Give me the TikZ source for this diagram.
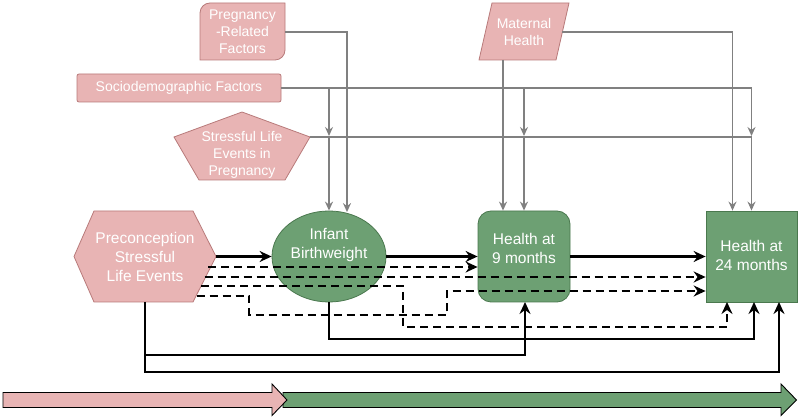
\documentclass[tikz,border=0pt]{standalone}
\usepackage{fontspec}
\setmainfont{Liberation Sans}
\usetikzlibrary{arrows.meta,shapes.geometric,calc}
\definecolor{pinkfill}{HTML}{E8B4B4}
\definecolor{pinkline}{HTML}{B87A7A}
\definecolor{greenfill}{HTML}{6DA073}
\definecolor{greenline}{HTML}{4A784E}
\definecolor{grayline}{HTML}{808080}
\tikzset{
  pinkshape/.style={fill=pinkfill,draw=pinkline,line width=0.8pt},
  greenshape/.style={fill=greenfill,draw=greenline,line width=0.8pt,inner sep=0pt},
  smalltxt/.style={text=white,align=center,inner sep=0pt,font=\fontsize{14pt}{17pt}\selectfont},
  bigtxt/.style={text=white,align=center,inner sep=0pt,font=\fontsize{15.5pt}{19pt}\selectfont},
  gline/.style={draw=grayline,line width=1.6pt,-{Stealth[length=9pt,width=8pt,inset=3pt]}},
  bline/.style={draw=black,line width=2.2pt,-{Stealth[length=12pt,width=11pt,inset=4pt]}},
  dline/.style={bline,dash pattern=on 8pt off 5pt},
  tlarrow/.style={draw=black,line width=0.9pt}
}
\begin{document}
\begin{tikzpicture}[x=1pt,y=-1pt]
\useasboundingbox (0,0) rectangle (800,419);
% ---- shapes ----
% Pregnancy-Related Factors (round diagonal corners)
\path[pinkshape] (200,60) -- (200,13) .. controls (200,7.5) and (204.5,3) .. (210,3)
  -- (285,3) -- (285,50) .. controls (285,55.5) and (280.5,60) .. (275,60) -- cycle;
\node[smalltxt,minimum width=85pt,minimum height=57pt] (preg) at (242.5,31.5) {Pregnancy\\-Related\\Factors};
% Sociodemographic Factors
\node[pinkshape,rounded corners=2pt,minimum width=204pt,minimum height=28pt,inner sep=0pt,
  smalltxt] (soc) at (179,88) {Sociodemographic Factors};
% Stressful Life Events in Pregnancy (pentagon)
\path[pinkshape] (242,112) -- (310,137) -- (285,180) -- (199,180) -- (174,137) -- cycle;
\node[smalltxt] (pent) at (242,155) {Stressful Life\\Events in\\Pregnancy};
\coordinate (pentR) at (310,137);
% Maternal Health (parallelogram)
\path[pinkshape] (492,3) -- (569,3) -- (556,60) -- (479,60) -- cycle;
\node[smalltxt] (mat) at (524,32) {Maternal\\Health};
\coordinate (matR) at (562,32);
\coordinate (matB) at (503,60);
% Preconception Stressful Life Events (hexagon)
\path[pinkshape] (94,211) -- (193,211) -- (216,256.5) -- (193,302) -- (94,302) -- (74,256.5) -- cycle;
\node[bigtxt,minimum width=142pt,minimum height=91pt] (pre) at (145,256.5) {Preconception\\Stressful\\Life Events};
% Infant Birthweight
\node[greenshape,ellipse,minimum width=114pt,minimum height=91pt] (ib) at (329,256.5) {};
\node[bigtxt] (ibt) at (329,245) {Infant\\Birthweight};
% Health at 9 months
\node[greenshape,rounded corners=13pt,minimum width=92pt,minimum height=91pt] (h9) at (524,256.5) {};
\node[bigtxt] (h9t) at (524,248) {Health at\\9 months};
% Health at 24 months
\node[greenshape,minimum width=91pt,minimum height=91pt] (h24) at (751.5,256.5) {};
\node[bigtxt] (h24t) at (751.5,255.5) {Health at\\24 months};

% ---- gray connectors ----
\coordinate (s1) at (329,88);
\coordinate (s2) at (524,88);
\coordinate (p1) at (329,137);
\coordinate (p2) at (524,137);
\draw[gline] (soc.east) -| (751.5,136);
\draw[gline] (s1) -- (329,136);
\draw[gline] (s2) -- (524,136);
\draw[gline] (preg.east |- 0,32) -| ($(ib.north)+(18,1.5)$);
\draw[gline] (matR) -| ($(h24.north)+(-19,0)$);
\draw[gline] (matB) -- ($(h9.north)+(-21,0)$);
\draw[gline] (pentR) -| (h24.north);
\draw[gline] (p1) -- (ib.north);
\draw[gline] (p2) -- (h9.north);

% ---- black connectors ----
\draw[bline] (pre.east) -- (ib.west);
\draw[bline] (ib.east) -- (h9.west);
\draw[bline] (h9.east) -- (h24.west);
\coordinate (d1) at (208,267);
\coordinate (d2) at (204.5,277);
\coordinate (d3) at (201,286);
\coordinate (d4) at (196.5,296);
\draw[dline] (d1) -- (d1 -| h9.west);
\draw[dline] (d2) -- (d2 -| h24.west);
\draw[dline] (d3) -- (403,286) -- (403,327) -- (727,327) -- (727,302);
\draw[dline] (d4) -- (249,296) -- (249,315) -- (447,315) -- (447,291) -- (447,291 -| h24.west);
\draw[bline] (ib.south) -- (329,339) -- (754,339) -- (754,302);
\coordinate (pb) at (145,302);
\draw[bline] (pb) -- (145,355) -- (525,355) -- (525,302);
\draw[bline] (145,355) -- (145,372) -- (779,372) -- (779,302);

% ---- timeline ----
\path[tlarrow,fill=greenfill] (283,392.5) -- (781,392.5) -- (781,384) -- (796.5,400) -- (781,415.5) -- (781,407.5) -- (283,407.5) -- cycle;
\path[tlarrow,fill=pinkfill] (3,392.5) -- (272,392.5) -- (272,384) -- (287,400) -- (272,415.5) -- (272,407.5) -- (3,407.5) -- cycle;
\end{tikzpicture}
\end{document}
